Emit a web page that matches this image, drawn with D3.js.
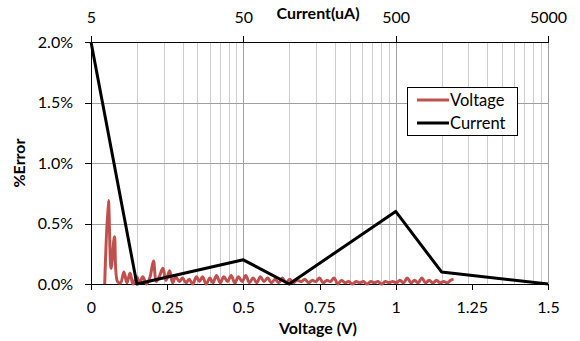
<html>
  <body style="margin:0;background:#fff">
    <style>
      text { font-family: Lato, "Noto Sans", sans-serif; fill: #000; }
      .gridMinor line { stroke: #cccccc; stroke-width: 1; shape-rendering: crispEdges; }
      .gridMajor line { stroke: #a0a0a0; stroke-width: 1; shape-rendering: crispEdges; }
      .gridMinor path, .gridMajor path { stroke-width: 0; }
      .axis path, .axis line { stroke: #000; shape-rendering: crispEdges; }
      .axis text { font-size: 16px; }
      .title { font-size: 16px; font-weight: bold; }
    </style>
    <script src="https://d3js.org/d3.v7.min.js"></script>
    <script type="text/javascript">
      // voltage sweep (V) vs % error
      var voltageV = [0.045, 0.057, 0.066, 0.077, 0.087, 0.097, 0.108, 0.118, 0.128, 0.138,
        0.150, 0.160, 0.170, 0.182, 0.193, 0.205, 0.214, 0.224, 0.236, 0.246,
        0.258, 0.268, 0.278, 0.290, 0.300, 0.312, 0.322, 0.334, 0.346, 0.356,
        0.366, 0.378, 0.390, 0.400, 0.412, 0.424, 0.436, 0.448, 0.460, 0.472,
        0.484, 0.496, 0.508, 0.520, 0.532, 0.544, 0.556, 0.568, 0.580, 0.592,
        0.604, 0.616, 0.628, 0.640, 0.652, 0.664, 0.676, 0.690, 0.702, 0.714,
        0.726, 0.738, 0.750, 0.762, 0.774, 0.786, 0.798, 0.810, 0.822, 0.834,
        0.846, 0.858, 0.870, 0.882, 0.894, 0.906, 0.918, 0.930, 0.942, 0.954,
        0.966, 0.978, 0.990, 1.002, 1.014, 1.026, 1.038, 1.050, 1.062, 1.074,
        1.086, 1.098, 1.110, 1.122, 1.134, 1.146, 1.158, 1.170, 1.180, 1.190];
      var voltageErr = [0.00, 0.69, 0.13, 0.39, 0.02, 0.01, 0.10, 0.01, 0.09, 0.00,
        0.06, 0.01, 0.06, 0.00, 0.05, 0.19, 0.02, 0.06, 0.13, 0.03,
        0.11, 0.01, 0.06, 0.02, 0.05, 0.01, 0.04, 0.00, 0.06, 0.02,
        0.06, 0.00, 0.05, 0.01, 0.07, 0.01, 0.06, 0.02, 0.07, 0.01,
        0.06, 0.02, 0.07, 0.01, 0.05, 0.01, 0.06, 0.02, 0.05, 0.01,
        0.04, 0.01, 0.05, 0.01, 0.04, 0.01, 0.03, 0.02, 0.04, 0.01,
        0.03, 0.02, 0.05, 0.01, 0.03, 0.02, 0.05, 0.00, 0.03, 0.01,
        0.02, 0.00, 0.02, 0.01, 0.02, 0.00, 0.02, 0.01, 0.02, 0.00,
        0.02, 0.01, 0.02, 0.01, 0.03, 0.01, 0.05, 0.01, 0.03, 0.01,
        0.05, 0.01, 0.03, 0.01, 0.03, 0.01, 0.02, 0.01, 0.03, 0.04];

      // current sweep (uA) vs % error
      var currentUA = [5, 10, 50, 100, 500, 1000, 5000];
      var currentErr = [2.0, 0.0, 0.2, 0.0, 0.6, 0.1, 0.0];

      var voltTicks = [0, 0.25, 0.5, 0.75, 1, 1.25, 1.5];
      var currTicks = [5, 50, 500, 5000];
      var errTicks = [0, 0.5, 1.0, 1.5, 2.0];
      var seriesNames = ["Voltage", "Current"];
      var seriesColors = ["#c0504d", "#000000"];

      var svg = d3.select("body").append("svg"),
        margin = {top: 42, right: 32, bottom: 57, left: 91},
        width = 580 - margin.left - margin.right,
        height = 341 - margin.top - margin.bottom,
        g = svg.attr("width", 580)
          .attr("height", 341)
          .append("g")
          .attr("transform", "translate(" + margin.left + "," + margin.top + ")");

      var x = d3.scaleLinear().domain([0, 1.5]).range([0, width]);
      var xTop = d3.scaleLog().domain([5, 5000]).range([0, width]);
      var y = d3.scaleLinear().domain([0, 2.0]).range([height, 0]);

      // minor log gridlines 10,15..45, 100,150..450 ...
      var minor = [];
      [5, 50, 500].forEach(function(b) {
        for (var k = 2; k <= 9; k++) minor.push(b * k);
      });
      g.append("g")
        .attr("class", "gridMinor")
        .call(d3.axisTop(xTop).tickValues(minor).tickSize(-height).tickFormat(""));
      g.append("g")
        .attr("class", "gridMajor")
        .call(d3.axisTop(xTop).tickValues([50, 500, 5000]).tickSize(-height).tickFormat(""));
      g.append("g")
        .attr("class", "gridMajor")
        .call(d3.axisLeft(y).tickValues([0.5, 1.0, 1.5]).tickSize(-width).tickFormat(""));

      var vData = voltageV.map(function(v, i) { return {x: x(v), y: y(voltageErr[i])}; });
      var cData = currentUA.map(function(c, i) { return {x: xTop(c), y: y(currentErr[i])}; });

      var smooth = d3.line()
        .curve(d3.curveCatmullRom.alpha(0.5))
        .x(function(d) { return d.x; })
        .y(function(d) { return d.y; });
      var straight = d3.line()
        .x(function(d) { return d.x; })
        .y(function(d) { return d.y; });

      // axes
      g.append("g")
        .attr("class", "axis")
        .attr("transform", "translate(0," + height + ")")
        .call(d3.axisBottom(x).tickValues(voltTicks).tickSizeInner(6).tickSizeOuter(0)
          .tickPadding(12).tickFormat(function(d) { return d; }));
      g.append("g")
        .attr("class", "axis")
        .call(d3.axisLeft(y).tickValues(errTicks).tickSizeInner(6).tickSizeOuter(0)
          .tickPadding(12).tickFormat(function(d) { return d.toFixed(1) + "%"; }));
      g.append("g")
        .attr("class", "axis")
        .call(d3.axisTop(xTop).tickValues(currTicks).tickSizeInner(6).tickSizeOuter(0)
          .tickPadding(13).tickFormat(function(d) { return d; }));

      g.append("path")
        .datum(vData)
        .attr("fill", "none")
        .attr("stroke", seriesColors[0])
        .attr("stroke-width", 3)
        .attr("stroke-linejoin", "round")
        .attr("d", smooth);

      g.append("path")
        .datum(cData)
        .attr("fill", "none")
        .attr("stroke", seriesColors[1])
        .attr("stroke-width", 3)
        .attr("stroke-linejoin", "round")
        .attr("d", straight);

      // axis titles
      svg.append("text").attr("class", "title")
        .attr("x", 318).attr("y", 334).attr("text-anchor", "middle").text("Voltage (V)");
      svg.append("text").attr("class", "title")
        .attr("x", 318).attr("y", 19).attr("text-anchor", "middle").text("Current(uA)");
      svg.append("text").attr("class", "title")
        .attr("transform", "translate(25,163) rotate(-90)")
        .attr("text-anchor", "middle").text("%Error");

      // legend
      var lg = svg.append("g").attr("transform", "translate(407,87)");
      lg.append("rect").attr("width", 110).attr("height", 48)
        .attr("fill", "#fff").attr("stroke", "#000").attr("stroke-width", 1)
        .attr("shape-rendering", "crispEdges");
      seriesNames.forEach(function(name, i) {
        lg.append("line")
          .attr("x1", 10).attr("x2", 42)
          .attr("y1", 13 + i * 23).attr("y2", 13 + i * 23)
          .attr("stroke", seriesColors[i]).attr("stroke-width", 3);
        lg.append("text")
          .attr("x", 43).attr("y", 19 + i * 23)
          .style("font-size", "16.5px")
          .text(name);
      });
    </script>
  </body>
</html>
